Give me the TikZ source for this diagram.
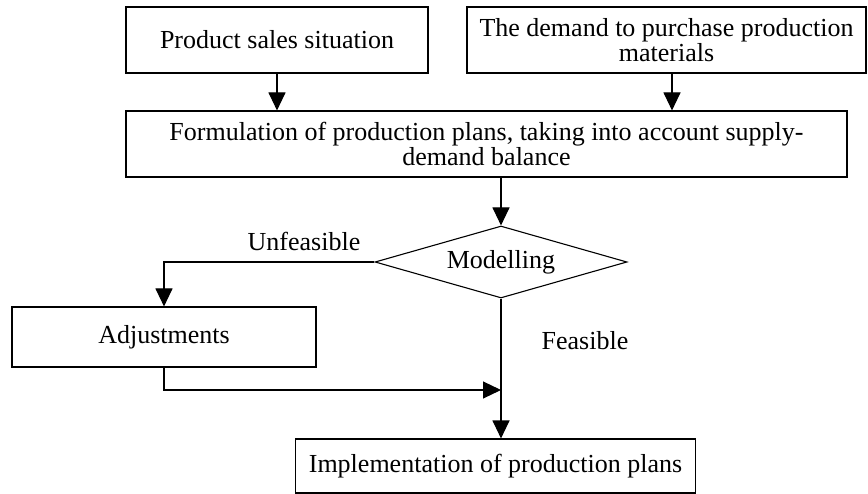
\documentclass[tikz,border=0pt]{standalone}
\usepackage{fontspec}
\setmainfont{Liberation Serif}
\usetikzlibrary{shapes.geometric,arrows.meta}
\tikzset{
	box/.style={draw,line width=1.1pt,inner sep=0pt,align=center,font=\fontsize{26}{22}\selectfont},
	decision/.style={draw,diamond,line width=1.1pt,inner sep=0pt,shape aspect=3.5,font=\fontsize{26}{22}\selectfont},
	lbl/.style={font=\fontsize{26}{22}\selectfont},
	arr/.style={line width=1.1pt,-{Triangle[length=18pt,width=17pt]}}
}
\begin{document}
\begin{tikzpicture}[x=1pt,y=-1pt]
			\useasboundingbox (0,0) rectangle (868,494);
			\node[box,minimum width=302pt,minimum height=66pt] (sales) at (277,40) {Product sales situation};
			\node[box,minimum width=399pt,minimum height=66pt] (demand) at (666.5,40) {The demand to purchase production\\materials};
			\node[box,minimum width=721pt,minimum height=66pt] (plan) at (486.5,144) {Formulation of production plans, taking into account supply-\\demand balance};
			\node[decision,minimum width=252pt,minimum height=72pt] (model) at (501,262) {Modelling};
			\node[box,minimum width=304pt,minimum height=60pt] (adjust) at (164,337) {Adjustments};
			\node[box,minimum width=400pt,minimum height=54pt] (impl) at (495.5,466) {Implementation of production plans};
			\coordinate (join) at (501,390);
			\node[lbl] (unfeas) at (304,241) {Unfeasible};
			\node[lbl] (feas) at (585,341) {Feasible};
			\draw [arr] (sales.south) to (sales.south |- plan.north);
			\draw [arr] ([xshift=5.5pt]demand.south) to ([xshift=5.5pt]demand.south |- plan.north);
			\draw [arr] (model.north |- plan.south) to (model.north);
			\draw [arr] (model.west) -| (adjust.north);
			\draw [arr] (adjust.south) |- (join);
			\draw [arr] (model.south) to (model.south |- impl.north);
		\end{tikzpicture}
\end{document}
